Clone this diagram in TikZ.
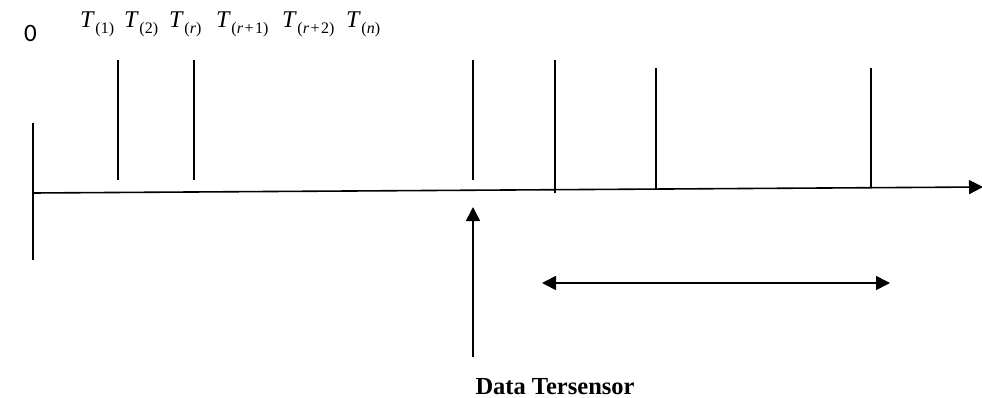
\documentclass[tikz,border=0pt]{standalone}
\usepackage{fontspec}
\setmainfont{Liberation Serif}
\newfontfamily\calfont{Carlito}
\usetikzlibrary{arrows.meta}
\newcommand\Tlab[1]{\textit{T}\kern0.5pt\raisebox{-5.5pt}{\fontsize{16}{17}\selectfont #1}}
\newcommand\plusgap{\kern1.5pt+\kern1.5pt}
\begin{document}
\begin{tikzpicture}[x=1pt,y=-1pt,
  ln/.style={line width=1.6pt},
  tip/.style={-{Triangle[length=14pt,width=14pt]}},
  tlab/.style={anchor=base west,inner sep=0pt,font=\fontsize{24}{26}\selectfont}]
\useasboundingbox (0,0) rectangle (982,398);
% labels
\node[anchor=base west,inner sep=0pt,font=\calfont\fontsize{25}{26}\selectfont] (zero) at (24,42) {0};
\node[tlab] (t1) at (80,28) {\Tlab{(1)}};
\node[tlab] (t2) at (124,28) {\Tlab{(2)}};
\node[tlab] (tr) at (169,28) {\Tlab{(\textit{r})}};
\node[tlab] (tr1) at (216,28) {\Tlab{(\textit{r}\plusgap1)}};
\node[tlab] (tr2) at (282,28) {\Tlab{(\textit{r}\plusgap2)}};
\node[tlab] (tn) at (346,28) {\Tlab{(\textit{n})}};
\node[anchor=base,inner sep=0pt,font=\bfseries\fontsize{24.5}{26}\selectfont] (data) at (555,394) {Data Tersensor};
% axis
\coordinate (a0) at (33,193);
\coordinate (a1) at (983,187);
\draw[ln,tip] (a0) -- (a1);
% left vertical
\coordinate (l0) at (33,123);
\coordinate (l1) at (33,260);
\draw[ln] (l0) -- (l1);
% ticks
\foreach \n/\x/\ya/\yb in {k1/118/60/180, k2/194/60/180, k3/473/60/180, k4/555/60/193, k5/656/68/189, k6/871/68/188}{
  \coordinate (\n a) at (\x,\ya);
  \coordinate (\n b) at (\x,\yb);
  \draw[ln] (\n a) -- (\n b);
}
% up arrow
\coordinate (u0) at (473,357);
\coordinate (u1) at (473,207);
\draw[ln,tip] (u0) -- (u1);
% double arrow
\coordinate (d0) at (542,283);
\coordinate (d1) at (890,283);
\draw[ln,{Triangle[length=14pt,width=14pt]}-{Triangle[length=14pt,width=14pt]}] (d0) -- (d1);
\end{tikzpicture}
\end{document}
